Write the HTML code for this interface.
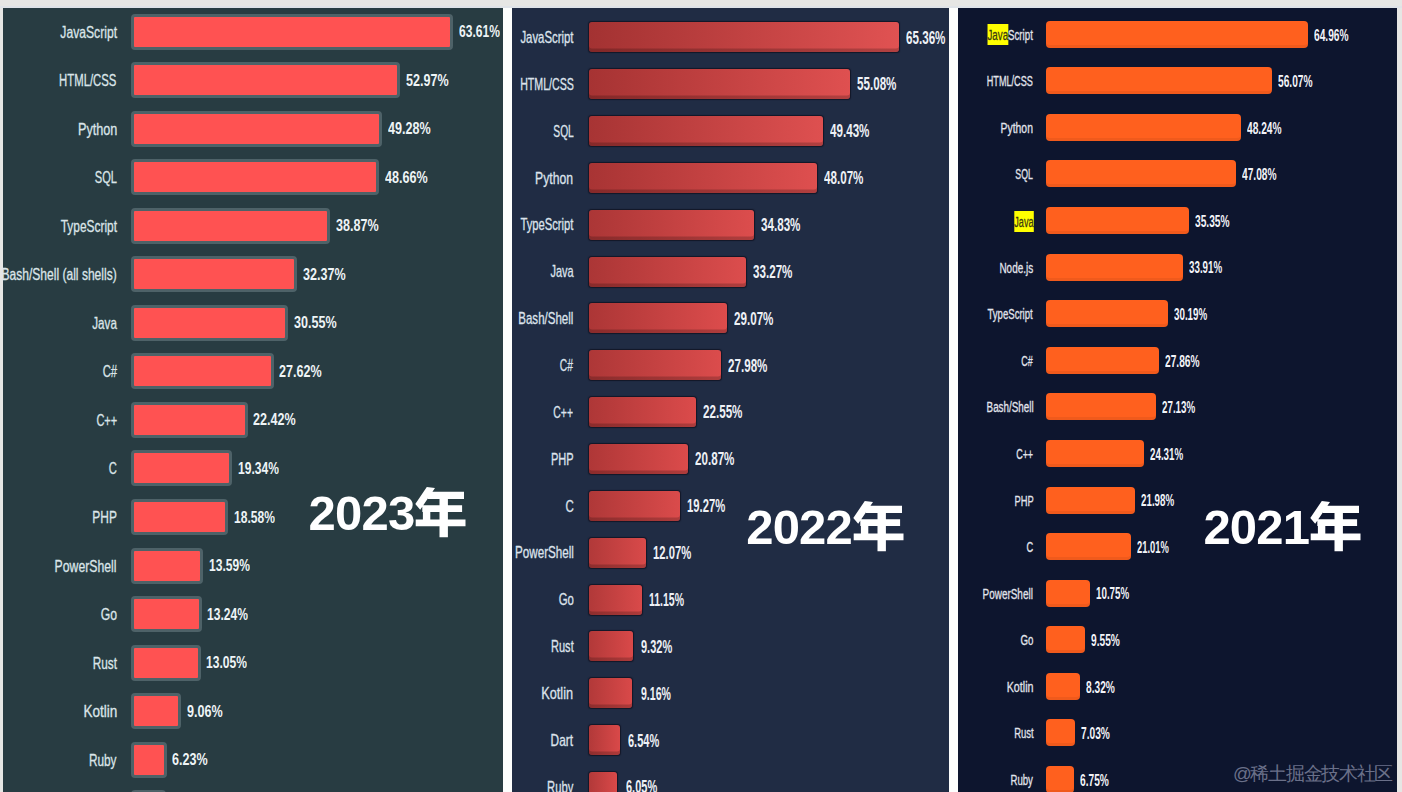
<!DOCTYPE html>
<html><head><meta charset="utf-8">
<style>
html,body{margin:0;padding:0}
body{width:1402px;height:792px;position:relative;overflow:hidden;background:#e6e6e4;font-family:"Liberation Sans",sans-serif}
.pn{position:absolute;top:8px;height:784px}
#p1{left:3px;width:500px;background:#283c42}
#p2{left:512px;width:437px;background:#202c44}
#p3{left:958px;width:439px;background:#0d152e}
.gap{position:absolute;top:8px;height:784px;width:9px;background:#fdfefd}
.b1{position:absolute;height:36px;border:3px solid #4e6268;border-radius:4px;background:#ff5252;box-sizing:border-box}
.b2{position:absolute;height:30px;border-radius:3px;box-shadow:inset 0 -3.5px 0 rgba(0,0,0,0.2),0 0 1px 0.5px rgba(10,8,20,0.6)}
.b3{position:absolute;height:27px;border-radius:4px;background:#ff601e;box-shadow:inset 0 -3px 0 rgba(0,0,0,0.06)}
.l,.v{position:absolute;white-space:nowrap;height:20px;line-height:20px}
.l{transform-origin:100% 50%;-webkit-text-stroke:0.3px currentColor}
.v{transform-origin:0 50%;font-weight:bold}
.b1l{font-size:16.5px;color:#dbe5e9;transform:scaleX(0.74)}
.b1v{font-size:16.2px;color:#eef4f6;transform:scaleX(0.73)}
.b2l{font-size:16.4px;color:#dde3ec;transform:scaleX(0.70)}
.b2v{font-size:17.5px;color:#eef1f6;transform:scaleX(0.68)}
.b3l{font-size:15.4px;color:#e2e4ec;transform:scaleX(0.64)}
.b3v{font-size:15.8px;color:#f2f3f8;transform:scaleX(0.645)}
.hl{background:#ffff00;color:#3a3a12;padding:1.5px 0 2.5px}
.yr{position:absolute;color:#fff;font-weight:bold;white-space:nowrap;line-height:60px;height:60px;font-size:49px;letter-spacing:-0.8px}
.wm{position:absolute;left:1233px;top:762px;font-size:18.5px;letter-spacing:-1.3px;line-height:24px;color:#6a7089;white-space:nowrap}
</style></head><body>
<div style="position:absolute;left:0;top:6px;width:1402px;height:2px;background:#dfe3e8"></div>
<div class="pn" id="p1"></div>
<div class="gap" style="left:503px"></div>
<div class="pn" id="p2"></div>
<div class="gap" style="left:949px"></div>
<div class="pn" id="p3"></div>
<div class="b1" style="left:131px;top:13.9px;width:322.45px"></div>
<div class="l b1l" style="right:1285.06px;top:21.9px;transform:scaleX(0.736)">JavaScript</div>
<div class="v b1v" style="left:459.25px;top:21.4px;transform:scaleX(0.744)">63.61%</div>
<div class="b1" style="left:131px;top:62.41px;width:269.25px"></div>
<div class="l b1l" style="right:1285.09px;top:70.41px;transform:scaleX(0.687)">HTML/CSS</div>
<div class="v b1v" style="left:406.05px;top:69.91px;transform:scaleX(0.775)">52.97%</div>
<div class="b1" style="left:131px;top:110.92px;width:250.8px"></div>
<div class="l b1l" style="right:1285.04px;top:118.92px;transform:scaleX(0.766)">Python</div>
<div class="v b1v" style="left:387.6px;top:118.42px;transform:scaleX(0.775)">49.28%</div>
<div class="b1" style="left:131px;top:159.43px;width:247.7px"></div>
<div class="l b1l" style="right:1285.1px;top:167.43px;transform:scaleX(0.672)">SQL</div>
<div class="v b1v" style="left:384.5px;top:166.93px;transform:scaleX(0.775)">48.66%</div>
<div class="b1" style="left:131px;top:207.94px;width:198.75px"></div>
<div class="l b1l" style="right:1285.07px;top:215.94px;transform:scaleX(0.721)">TypeScript</div>
<div class="v b1v" style="left:335.55px;top:215.44px;transform:scaleX(0.775)">38.87%</div>
<div class="b1" style="left:131px;top:256.45px;width:166.25px"></div>
<div class="l b1l" style="right:1285.06px;top:264.45px;transform:scaleX(0.731)">Bash/Shell (all shells)</div>
<div class="v b1v" style="left:303.05px;top:263.95px;transform:scaleX(0.775)">32.37%</div>
<div class="b1" style="left:131px;top:304.96px;width:157.15px"></div>
<div class="l b1l" style="right:1285.08px;top:312.96px;transform:scaleX(0.706)">Java</div>
<div class="v b1v" style="left:293.95px;top:312.46px;transform:scaleX(0.775)">30.55%</div>
<div class="b1" style="left:131px;top:353.47px;width:142.5px"></div>
<div class="l b1l" style="right:1285.09px;top:361.47px;transform:scaleX(0.685)">C#</div>
<div class="v b1v" style="left:279.3px;top:360.97px;transform:scaleX(0.775)">27.62%</div>
<div class="b1" style="left:131px;top:401.98px;width:116.5px"></div>
<div class="l b1l" style="right:1285.1px;top:409.98px;transform:scaleX(0.667)">C++</div>
<div class="v b1v" style="left:253.3px;top:409.48px;transform:scaleX(0.775)">22.42%</div>
<div class="b1" style="left:131px;top:450.49px;width:101.1px"></div>
<div class="l b1l" style="right:1285.09px;top:458.49px;transform:scaleX(0.680)">C</div>
<div class="v b1v" style="left:237.9px;top:457.99px;transform:scaleX(0.744)">19.34%</div>
<div class="b1" style="left:131px;top:499px;width:97.3px"></div>
<div class="l b1l" style="right:1285.07px;top:507px;transform:scaleX(0.725)">PHP</div>
<div class="v b1v" style="left:234.1px;top:506.5px;transform:scaleX(0.744)">18.58%</div>
<div class="b1" style="left:131px;top:547.51px;width:72.35px"></div>
<div class="l b1l" style="right:1285.06px;top:555.51px;transform:scaleX(0.741)">PowerShell</div>
<div class="v b1v" style="left:209.15px;top:555.01px;transform:scaleX(0.744)">13.59%</div>
<div class="b1" style="left:131px;top:596.02px;width:70.6px"></div>
<div class="l b1l" style="right:1285.06px;top:604.02px;transform:scaleX(0.740)">Go</div>
<div class="v b1v" style="left:207.4px;top:603.52px;transform:scaleX(0.744)">13.24%</div>
<div class="b1" style="left:131px;top:644.53px;width:69.65px"></div>
<div class="l b1l" style="right:1285.07px;top:652.53px;transform:scaleX(0.715)">Rust</div>
<div class="v b1v" style="left:206.45px;top:652.03px;transform:scaleX(0.744)">13.05%</div>
<div class="b1" style="left:131px;top:693.04px;width:49.7px"></div>
<div class="l b1l" style="right:1285.01px;top:701.04px;transform:scaleX(0.821)">Kotlin</div>
<div class="v b1v" style="left:186.5px;top:700.54px;transform:scaleX(0.775)">9.06%</div>
<div class="b1" style="left:131px;top:741.55px;width:35.55px"></div>
<div class="l b1l" style="right:1285.07px;top:749.55px;transform:scaleX(0.716)">Ruby</div>
<div class="v b1v" style="left:172.35px;top:749.05px;transform:scaleX(0.775)">6.23%</div>
<div class="b1" style="left:131px;top:790.06px;width:34.85px"></div>
<div class="l b1l" style="right:1285.06px;top:798.06px;transform:scaleX(0.741)">Lua</div>
<div class="v b1v" style="left:171.65px;top:797.56px;transform:scaleX(0.775)">6.09%</div>
<div class="b2" style="left:589px;top:22.3px;width:309.64px;background:linear-gradient(90deg,#a33232,#e05252)"></div>
<div class="l b2l" style="right:828.58px;top:27px;transform:scaleX(0.694)">JavaScript</div>
<div class="v b2v" style="left:905.64px;top:27.6px;transform:scaleX(0.665)">65.36%</div>
<div class="b2" style="left:589px;top:69.16px;width:260.89px;background:linear-gradient(90deg,#a63333,#df5050)"></div>
<div class="l b2l" style="right:828.61px;top:73.86px;transform:scaleX(0.648)">HTML/CSS</div>
<div class="v b2v" style="left:856.89px;top:74.46px;transform:scaleX(0.665)">55.08%</div>
<div class="b2" style="left:589px;top:116.02px;width:234.1px;background:linear-gradient(90deg,#a73434,#de5050)"></div>
<div class="l b2l" style="right:828.62px;top:120.72px;transform:scaleX(0.625)">SQL</div>
<div class="v b2v" style="left:830.1px;top:121.32px;transform:scaleX(0.665)">49.43%</div>
<div class="b2" style="left:589px;top:162.88px;width:227.65px;background:linear-gradient(90deg,#a83434,#de4f4f)"></div>
<div class="l b2l" style="right:828.55px;top:167.58px;transform:scaleX(0.743)">Python</div>
<div class="v b2v" style="left:823.65px;top:168.18px;transform:scaleX(0.665)">48.07%</div>
<div class="b2" style="left:589px;top:209.74px;width:164.86px;background:linear-gradient(90deg,#ab3636,#dc4d4d)"></div>
<div class="l b2l" style="right:828.59px;top:214.44px;transform:scaleX(0.685)">TypeScript</div>
<div class="v b2v" style="left:760.86px;top:215.04px;transform:scaleX(0.665)">34.83%</div>
<div class="b2" style="left:589px;top:256.6px;width:157.47px;background:linear-gradient(90deg,#ab3636,#dc4d4d)"></div>
<div class="l b2l" style="right:828.6px;top:261.3px;transform:scaleX(0.669)">Java</div>
<div class="v b2v" style="left:753.47px;top:261.9px;transform:scaleX(0.665)">33.27%</div>
<div class="b2" style="left:589px;top:303.46px;width:137.55px;background:linear-gradient(90deg,#ac3636,#dc4c4c)"></div>
<div class="l b2l" style="right:828.58px;top:308.16px;transform:scaleX(0.703)">Bash/Shell</div>
<div class="v b2v" style="left:733.55px;top:308.76px;transform:scaleX(0.665)">29.07%</div>
<div class="b2" style="left:589px;top:350.32px;width:132.38px;background:linear-gradient(90deg,#ad3737,#db4c4c)"></div>
<div class="l b2l" style="right:828.62px;top:355.02px;transform:scaleX(0.625)">C#</div>
<div class="v b2v" style="left:728.38px;top:355.62px;transform:scaleX(0.665)">27.98%</div>
<div class="b2" style="left:589px;top:397.18px;width:106.63px;background:linear-gradient(90deg,#ae3737,#db4b4b)"></div>
<div class="l b2l" style="right:828.62px;top:401.88px;transform:scaleX(0.633)">C++</div>
<div class="v b2v" style="left:702.63px;top:402.48px;transform:scaleX(0.665)">22.55%</div>
<div class="b2" style="left:589px;top:444.04px;width:98.67px;background:linear-gradient(90deg,#af3737,#db4b4b)"></div>
<div class="l b2l" style="right:828.6px;top:448.74px;transform:scaleX(0.675)">PHP</div>
<div class="v b2v" style="left:694.67px;top:449.34px;transform:scaleX(0.665)">20.87%</div>
<div class="b2" style="left:589px;top:490.9px;width:91.08px;background:linear-gradient(90deg,#af3838,#da4b4b)"></div>
<div class="l b2l" style="right:828.58px;top:495.6px;transform:scaleX(0.700)">C</div>
<div class="v b2v" style="left:687.08px;top:496.2px;transform:scaleX(0.643)">19.27%</div>
<div class="b2" style="left:589px;top:537.76px;width:56.94px;background:linear-gradient(90deg,#b13939,#d94a4a)"></div>
<div class="l b2l" style="right:828.57px;top:542.46px;transform:scaleX(0.710)">PowerShell</div>
<div class="v b2v" style="left:652.94px;top:543.06px;transform:scaleX(0.643)">12.07%</div>
<div class="b2" style="left:589px;top:584.62px;width:52.57px;background:linear-gradient(90deg,#b13939,#d94a4a)"></div>
<div class="l b2l" style="right:828.58px;top:589.32px;transform:scaleX(0.695)">Go</div>
<div class="v b2v" style="left:648.57px;top:589.92px;transform:scaleX(0.599)">11.15%</div>
<div class="b2" style="left:589px;top:631.48px;width:43.9px;background:linear-gradient(90deg,#b23939,#d94949)"></div>
<div class="l b2l" style="right:828.6px;top:636.18px;transform:scaleX(0.673)">Rust</div>
<div class="v b2v" style="left:641.4px;top:636.78px;transform:scaleX(0.628)">9.32%</div>
<div class="b2" style="left:589px;top:678.34px;width:43.14px;background:linear-gradient(90deg,#b23939,#d94949)"></div>
<div class="l b2l" style="right:828.54px;top:683.04px;transform:scaleX(0.774)">Kotlin</div>
<div class="v b2v" style="left:640.64px;top:683.64px;transform:scaleX(0.603)">9.16%</div>
<div class="b2" style="left:589px;top:725.2px;width:30.71px;background:linear-gradient(90deg,#b23939,#d94949)"></div>
<div class="l b2l" style="right:828.57px;top:729.9px;transform:scaleX(0.723)">Dart</div>
<div class="v b2v" style="left:628.21px;top:730.5px;transform:scaleX(0.628)">6.54%</div>
<div class="b2" style="left:589px;top:772.06px;width:28.39px;background:linear-gradient(90deg,#b23939,#d94949)"></div>
<div class="l b2l" style="right:828.59px;top:776.76px;transform:scaleX(0.686)">Ruby</div>
<div class="v b2v" style="left:625.89px;top:777.36px;transform:scaleX(0.628)">6.05%</div>
<div class="b3" style="left:1046.3px;top:20.7px;width:261.54px"></div>
<div class="l b3l" style="right:368.82px;top:24.7px;transform:scaleX(0.631)"><span class="hl">Java</span>Script</div>
<div class="v b3v" style="left:1313.84px;top:25.5px;transform:scaleX(0.645)">64.96%</div>
<div class="b3" style="left:1046.3px;top:67.28px;width:225.8px"></div>
<div class="l b3l" style="right:368.84px;top:71.28px;transform:scaleX(0.592)">HTML/CSS</div>
<div class="v b3v" style="left:1278.1px;top:72.08px;transform:scaleX(0.645)">56.07%</div>
<div class="b3" style="left:1046.3px;top:113.86px;width:194.32px"></div>
<div class="l b3l" style="right:368.79px;top:117.86px;transform:scaleX(0.676)">Python</div>
<div class="v b3v" style="left:1246.62px;top:118.66px;transform:scaleX(0.645)">48.24%</div>
<div class="b3" style="left:1046.3px;top:160.44px;width:189.66px"></div>
<div class="l b3l" style="right:368.86px;top:164.44px;transform:scaleX(0.567)">SQL</div>
<div class="v b3v" style="left:1241.96px;top:165.24px;transform:scaleX(0.645)">47.08%</div>
<div class="b3" style="left:1046.3px;top:207.02px;width:142.51px"></div>
<div class="l b3l" style="right:368.85px;top:211.02px;transform:scaleX(0.591)"><span class="hl">Java</span></div>
<div class="v b3v" style="left:1194.81px;top:211.82px;transform:scaleX(0.645)">35.35%</div>
<div class="b3" style="left:1046.3px;top:253.6px;width:136.72px"></div>
<div class="l b3l" style="right:368.81px;top:257.6px;transform:scaleX(0.647)">Node.js</div>
<div class="v b3v" style="left:1189.02px;top:258.4px;transform:scaleX(0.619)">33.91%</div>
<div class="b3" style="left:1046.3px;top:300.18px;width:121.76px"></div>
<div class="l b3l" style="right:368.83px;top:304.18px;transform:scaleX(0.622)">TypeScript</div>
<div class="v b3v" style="left:1174.06px;top:304.98px;transform:scaleX(0.619)">30.19%</div>
<div class="b3" style="left:1046.3px;top:346.76px;width:112.4px"></div>
<div class="l b3l" style="right:368.85px;top:350.76px;transform:scaleX(0.579)">C#</div>
<div class="v b3v" style="left:1164.7px;top:351.56px;transform:scaleX(0.645)">27.86%</div>
<div class="b3" style="left:1046.3px;top:393.34px;width:109.46px"></div>
<div class="l b3l" style="right:368.82px;top:397.34px;transform:scaleX(0.639)">Bash/Shell</div>
<div class="v b3v" style="left:1161.76px;top:398.14px;transform:scaleX(0.619)">27.13%</div>
<div class="b3" style="left:1046.3px;top:439.92px;width:98.13px"></div>
<div class="l b3l" style="right:368.85px;top:443.92px;transform:scaleX(0.582)">C++</div>
<div class="v b3v" style="left:1150.43px;top:444.72px;transform:scaleX(0.619)">24.31%</div>
<div class="b3" style="left:1046.3px;top:486.5px;width:88.76px"></div>
<div class="l b3l" style="right:368.84px;top:490.5px;transform:scaleX(0.607)">PHP</div>
<div class="v b3v" style="left:1141.06px;top:491.3px;transform:scaleX(0.619)">21.98%</div>
<div class="b3" style="left:1046.3px;top:533.08px;width:84.86px"></div>
<div class="l b3l" style="right:368.84px;top:537.08px;transform:scaleX(0.600)">C</div>
<div class="v b3v" style="left:1137.16px;top:537.88px;transform:scaleX(0.594)">21.01%</div>
<div class="b3" style="left:1046.3px;top:579.66px;width:43.61px"></div>
<div class="l b3l" style="right:368.81px;top:583.66px;transform:scaleX(0.646)">PowerShell</div>
<div class="v b3v" style="left:1095.91px;top:584.46px;transform:scaleX(0.619)">10.75%</div>
<div class="b3" style="left:1046.3px;top:626.24px;width:38.79px"></div>
<div class="l b3l" style="right:368.82px;top:630.24px;transform:scaleX(0.632)">Go</div>
<div class="v b3v" style="left:1091.09px;top:631.04px;transform:scaleX(0.645)">9.55%</div>
<div class="b3" style="left:1046.3px;top:672.82px;width:33.85px"></div>
<div class="l b3l" style="right:368.78px;top:676.82px;transform:scaleX(0.697)">Kotlin</div>
<div class="v b3v" style="left:1086.15px;top:677.62px;transform:scaleX(0.645)">8.32%</div>
<div class="b3" style="left:1046.3px;top:719.4px;width:28.66px"></div>
<div class="l b3l" style="right:368.83px;top:723.4px;transform:scaleX(0.616)">Rust</div>
<div class="v b3v" style="left:1080.96px;top:724.2px;transform:scaleX(0.645)">7.03%</div>
<div class="b3" style="left:1046.3px;top:765.98px;width:27.53px"></div>
<div class="l b3l" style="right:368.82px;top:769.98px;transform:scaleX(0.626)">Ruby</div>
<div class="v b3v" style="left:1079.84px;top:770.78px;transform:scaleX(0.645)">6.75%</div>
<div class="yr" style="left:308.6px;top:482.6px">2023</div>
<div class="yr" style="left:746.2px;top:496.6px">2022</div>
<div class="yr" style="left:1203.4px;top:496.6px">2021</div>
<svg width="1402" height="792" style="position:absolute;left:0;top:0" fill="#fff"><path transform="translate(410 480)" d="M16.8 6.9L25 8L10.2 29.8L5.3 24Z M18 11.7H54V18.9H18Z M12.3 25.2H52.1V32H12.3Z M12.9 25.2H20.3V39.6H12.9Z M5.7 39.4H55.5V46.2H5.7Z M29.5 11.7H37.9V57.2H29.5Z"/><path transform="translate(848 494)" d="M16.8 6.9L25 8L10.2 29.8L5.3 24Z M18 11.7H54V18.9H18Z M12.3 25.2H52.1V32H12.3Z M12.9 25.2H20.3V39.6H12.9Z M5.7 39.4H55.5V46.2H5.7Z M29.5 11.7H37.9V57.2H29.5Z"/><path transform="translate(1305 494)" d="M16.8 6.9L25 8L10.2 29.8L5.3 24Z M18 11.7H54V18.9H18Z M12.3 25.2H52.1V32H12.3Z M12.9 25.2H20.3V39.6H12.9Z M5.7 39.4H55.5V46.2H5.7Z M29.5 11.7H37.9V57.2H29.5Z"/></svg>
<div class="wm">@稀土掘金技术社区</div>
</body></html>
